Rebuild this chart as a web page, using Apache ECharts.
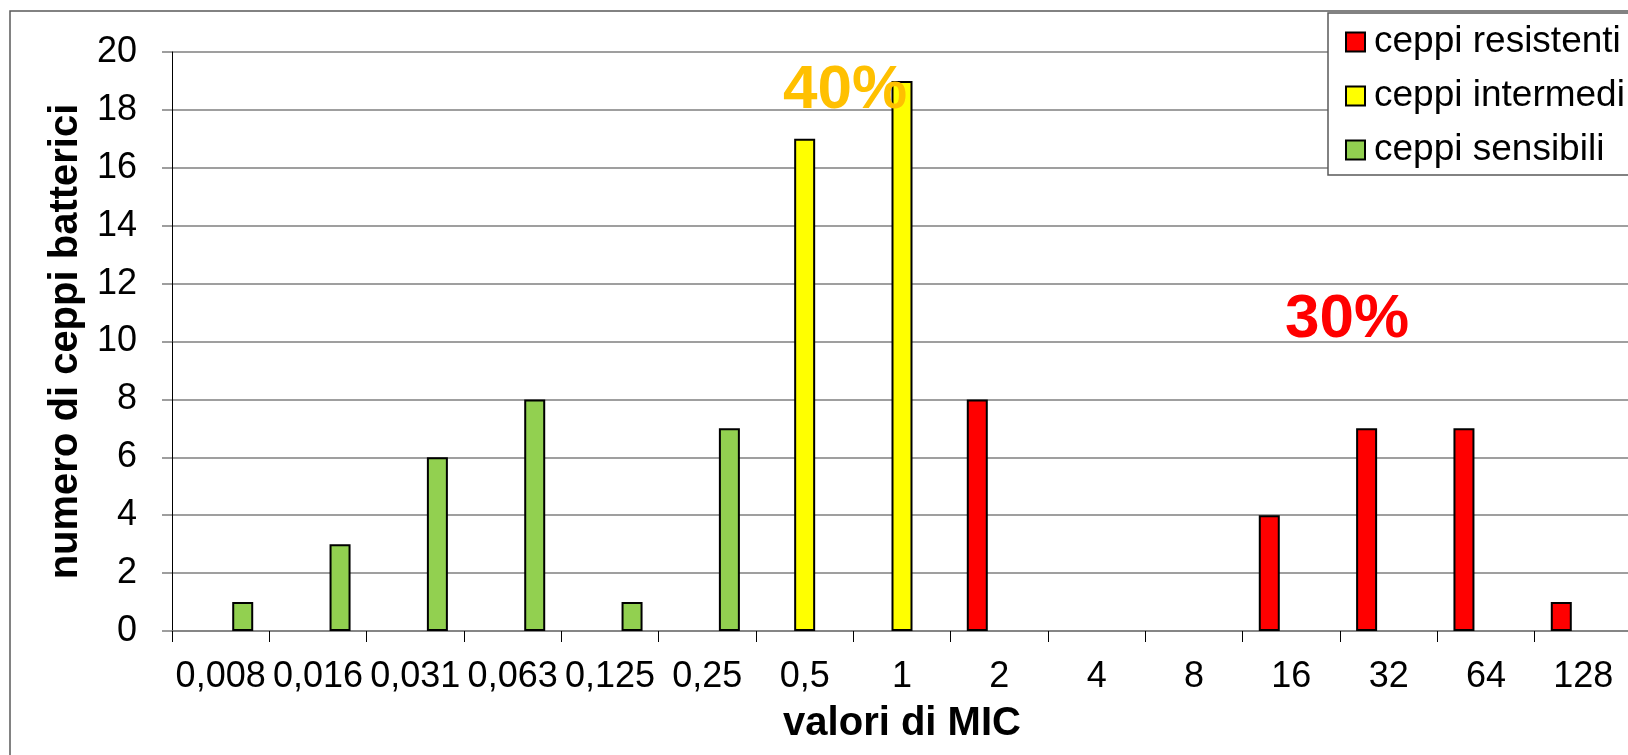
<!DOCTYPE html>
<html>
<head>
<meta charset="utf-8">
<title>Distribuzione dei valori di MIC</title>
<script src="https://cdn.jsdelivr.net/npm/echarts@6/dist/echarts.min.js"></script>
<style>
  html, body { margin: 0; padding: 0; background: #ffffff; }
  #chart { width: 1628px; height: 755px; }
</style>
</head>
<body>
<div id="chart"></div>
<script>
// MIC classes (mg/L) on the category axis
const micLabels = ['0,008', '0,016', '0,031', '0,063', '0,125', '0,25', '0,5', '1', '2', '4', '8', '16', '32', '64', '128'];

// number of strains per MIC class, split by susceptibility category (null = no strains)
const resistenti = [null, null, null, null, null, null, null, null, 8, null, null, 4, 7, 7, 1];
const intermedi  = [null, null, null, null, null, null, 17, 19, null, null, null, null, null, null, null];
const sensibili  = [1, 3, 6, 8, 1, 7, null, null, null, null, null, null, null, null, null];

const seriesNames = ['ceppi resistenti', 'ceppi intermedi', 'ceppi sensibili'];
const seriesColors = ['#FF0000', '#FFFF00', '#92D050'];

// percentage call-outs over the intermediate and resistant groups
const percentLabels = [
  { text: '40%', color: '#FFC000', x: 845, y: 91 },
  { text: '30%', color: '#FF0000', x: 1347, y: 320 }
];

const yTicks = { min: 0, max: 20, interval: 2 };

const FONT = "'Liberation Sans', Arial, Helvetica, sans-serif";
const gridGray = '#7f7f7f';

const chart = echarts.init(document.getElementById('chart'), null, { renderer: 'canvas' });

function barSeries(name, data, color) {
  return {
    name: name,
    type: 'bar',
    data: data,
    barWidth: 21,
    barGap: '5%',
    itemStyle: { color: color, borderColor: '#000000', borderWidth: 2 },
    emphasis: { disabled: true },
    animation: false
  };
}

chart.setOption({
  backgroundColor: '#ffffff',
  animation: false,
  textStyle: { fontFamily: FONT },
  grid: { left: 172, right: -4, top: 52, bottom: 124, containLabel: false, outerBoundsMode: 'none' },
  legend: {
    data: seriesNames,
    orient: 'vertical',
    left: 1328,
    top: 13,
    padding: [9, 40, 5, 17],
    itemWidth: 19,
    itemHeight: 19,
    itemGap: 14,
    icon: 'rect',
    backgroundColor: '#ffffff',
    borderColor: '#5a5a5a',
    borderWidth: 1.5,
    borderRadius: 0,
    selectedMode: false,
    textStyle: { fontFamily: FONT, fontSize: 37, color: '#000000', lineHeight: 40, padding: [0, 0, 0, 4] },
    itemStyle: { borderColor: '#000000', borderWidth: 2 }
  },
  xAxis: {
    type: 'category',
    data: micLabels,
    name: 'valori di MIC',
    nameLocation: 'middle',
    nameGap: 73,
    nameTextStyle: { fontFamily: FONT, fontSize: 40, fontWeight: 'bold', color: '#000000' },
    axisLine: { show: true, lineStyle: { color: gridGray, width: 1.5 } },
    axisTick: { show: true, alignWithLabel: false, length: 11, lineStyle: { color: '#000000', width: 1 } },
    axisLabel: { interval: 0, fontFamily: FONT, fontSize: 36, color: '#000000', margin: 28 },
    splitLine: { show: false }
  },
  yAxis: {
    type: 'value',
    min: yTicks.min,
    max: yTicks.max,
    interval: yTicks.interval,
    name: 'numero di ceppi batterici',
    nameLocation: 'middle',
    nameRotate: 90,
    nameGap: 84,
    nameTextStyle: { fontFamily: FONT, fontSize: 40, fontWeight: 'bold', color: '#000000' },
    axisLine: { show: true, lineStyle: { color: '#000000', width: 1 } },
    axisTick: { show: true, length: 10, lineStyle: { color: gridGray, width: 1.5 } },
    axisLabel: { fontFamily: FONT, fontSize: 36, color: '#000000', margin: 35 },
    splitLine: { show: true, lineStyle: { color: gridGray, width: 1.5 } }
  },
  series: [
    barSeries(seriesNames[0], resistenti, seriesColors[0]),
    barSeries(seriesNames[1], intermedi, seriesColors[1]),
    barSeries(seriesNames[2], sensibili, seriesColors[2])
  ],
  graphic: [
    {
      type: 'rect',
      silent: true,
      z: -10,
      shape: { x: 10, y: 11, width: 1700, height: 900 },
      style: { fill: 'none', stroke: '#5a5a5a', lineWidth: 1.5 }
    }
  ].concat(percentLabels.map(p => ({
    type: 'text',
    silent: true,
    z: 100,
    x: p.x,
    y: p.y,
    style: {
      text: p.text,
      fill: p.color,
      font: 'bold 62px ' + FONT,
      textAlign: 'center',
      textVerticalAlign: 'middle'
    }
  })))
});
</script>
</body>
</html>
